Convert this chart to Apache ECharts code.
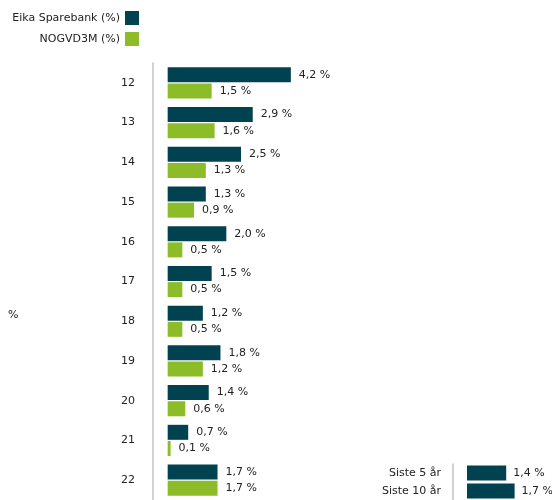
<!DOCTYPE html>
<html>
<head>
<meta charset="utf-8">
<script src="https://cdn.jsdelivr.net/npm/echarts@6/dist/echarts.min.js"></script>
<style>
  html, body { margin: 0; padding: 0; background: #fff; }
  #chart { width: 552px; height: 500px; }
</style>
</head>
<body>
<div id="chart"></div>
<script>
// Yearly returns, Eika Sparebank vs NOGVD3M
const years = ["12", "13", "14", "15", "16", "17", "18", "19", "20", "21", "22"];
const eikaValues = [4.2, 2.9, 2.5, 1.3, 2.0, 1.5, 1.2, 1.8, 1.4, 0.7, 1.7];
const nogvdValues = [1.5, 1.6, 1.3, 0.9, 0.5, 0.5, 0.5, 1.2, 0.6, 0.1, 1.7];

// Average summary (bottom right)
const periods = ["Siste 5 år", "Siste 10 år"];
const periodValues = [1.4, 1.7];

const DARK = "#00424f";
const GREEN = "#8cbd28";
const TEXT = "#222";
const FONT = "DejaVu Sans";

const pct = (p) => p.value.toFixed(1).replace(".", ",") + " %";

const chart = echarts.init(document.getElementById("chart"));

const labelStyle = {
  show: true,
  position: "right",
  distance: 8,
  color: TEXT,
  fontFamily: FONT,
  fontSize: 11,
  formatter: pct,
};

const legendBase = {
  orient: "vertical",
  align: "right",
  right: 413,
  padding: 0,
  itemWidth: 14,
  itemHeight: 14,
  itemGap: 7,
  icon: "rect",
  selectedMode: false,
  textStyle: { color: TEXT, fontFamily: FONT, fontSize: 11 },
};

// category axis: line sits left of the bars' zero line (gap comes from a negative min)
const catAxis = (grid, data, margin) => ({
  gridIndex: grid,
  type: "category",
  data: data,
  inverse: true,
  axisLine: { show: true, onZero: false, lineStyle: { color: "#c6c2be", width: 1.5 } },
  axisTick: { show: false },
  axisLabel: { margin: margin, color: TEXT, fontFamily: FONT, fontSize: 11, padding: [3, 0, 0, 0] },
});

const option = {
  animation: false,
  title: {
    text: "%",
    left: 3,
    top: 305,
    textStyle: { color: TEXT, fontFamily: FONT, fontSize: 11, fontWeight: "normal" },
  },
  legend: [
    { ...legendBase, top: 11, data: ["Eika Sparebank (%)"] },
    { ...legendBase, top: 32, data: ["NOGVD3M (%)"] },
  ],
  grid: [
    { left: 153, top: 63, width: 308, height: 449 },
    { left: 453, top: 464, width: 98, height: 38 },
  ],
  xAxis: [
    { gridIndex: 0, type: "value", min: -0.5, max: 10, show: false },
    { gridIndex: 1, type: "value", min: -0.5, max: 3, show: false },
  ],
  yAxis: [catAxis(0, years, 18), catAxis(1, periods, 12)],
  series: [
    {
      name: "Eika Sparebank (%)",
      type: "bar",
      data: eikaValues,
      barWidth: 15,
      barGap: "8%",
      itemStyle: { color: DARK },
      label: labelStyle,
    },
    {
      name: "NOGVD3M (%)",
      type: "bar",
      data: nogvdValues,
      barWidth: 15,
      barGap: "8%",
      itemStyle: { color: GREEN },
      label: labelStyle,
    },
    {
      name: "Snitt",
      type: "bar",
      xAxisIndex: 1,
      yAxisIndex: 1,
      data: periodValues,
      barWidth: 15,
      itemStyle: { color: DARK },
      label: { ...labelStyle, distance: 7 },
    },
  ],
};

chart.setOption(option);
</script>
</body>
</html>
